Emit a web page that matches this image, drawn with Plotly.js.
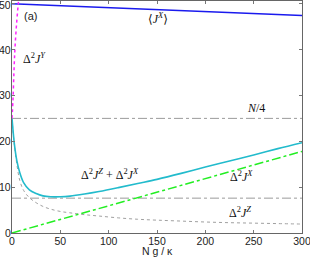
<!DOCTYPE html>
<html><head><meta charset="utf-8">
<script src="https://cdn.plot.ly/plotly-3.0.1.min.js"></script>
<style>html,body{margin:0;padding:0;background:#fff}#c{width:310px;height:257px}</style>
</head><body><div id="c"></div>
<script>
// Data
const gJX = [0, 150, 300];
const meanJX = [50, 48.7, 47.45];

const gY = [0, 1, 2, 3, 4.5, 6.5, 7.5];
const varY = [25, 29, 35, 40, 45, 50, 52];

const gS = [0,1,2,3,5,8,12,18,25,32,40,50,60,75,90,110,130,150,175,200,225,250,275,300];
const sumZX = [25,22.5,20.3,18.5,15.8,13.2,11.0,9.4,8.6,8.1,7.9,7.9,8.05,8.5,9.05,9.9,10.8,11.7,13.0,14.4,15.7,17.0,18.4,19.7];
const varZ = [25,22.3,20,18.2,15,11.5,9.3,7.7,6.6,5.8,5.2,4.7,4.4,4.0,3.7,3.3,3.0,2.8,2.6,2.4,2.25,2.15,2.05,1.95];

const gX = [0, 300];
const varX = [0, 17.8];

const hLines = [25, 7.6];
const xRange = [0, 300];
const yRange = [0, 50.6];
const xTicks = [0, 50, 100, 150, 200, 250, 300];
const yTicks = [0, 10, 20, 30, 40, 50];

const traces = [];
hLines.forEach(v => traces.push({x: xRange, y: [v, v], mode: 'lines', line: {color: '#9a9a9a', width: 1, dash: 'dashdot'}, hoverinfo: 'skip'}));
traces.push({x: gS, y: varZ, mode: 'lines', line: {color: '#a0a0a0', width: 1, dash: 'dot', shape: 'spline'}});
traces.push({x: gX, y: varX, mode: 'lines', line: {color: '#22ee22', width: 1.5, dash: 'dashdot'}});
traces.push({x: gS, y: sumZX, mode: 'lines', line: {color: '#22bbcc', width: 1.6, shape: 'spline'}});
traces.push({x: gJX, y: meanJX, mode: 'lines', line: {color: '#1a1aee', width: 1.5}});
traces.push({x: gY, y: varY, mode: 'lines', line: {color: '#ff22ff', width: 1.5, dash: 'dot', shape: 'spline'}});

const sf = {family: 'Liberation Serif, DejaVu Serif, serif', size: 12, color: '#111'};
const sans = {family: 'Liberation Sans, Arial, sans-serif', size: 10.5, color: '#222'};
function ann(x, y, text) { return {x: x, y: y, xref: 'paper', yref: 'paper', text: text, showarrow: false, font: sf, xanchor: 'left', yanchor: 'middle'}; }
const W = 290, H = 232;
function px(xp, yp) { return [(xp - 12) / W, (233 - yp) / H]; }
const annots = [
  [22, 16, '(a)', {family: 'Liberation Sans, Arial, sans-serif', size: 11, color: '#222'}],
  [146, 18, '⟨<i>J</i><sup><i>X</i></sup>⟩'],
  [21, 58, 'Δ<sup>2</sup><i>J</i><sup><i>Y</i></sup>'],
  [245, 108, '<i>N</i>/4'],
  [79, 174, 'Δ<sup>2</sup><i>J</i><sup><i>Z</i></sup> + Δ<sup>2</sup><i>J</i><sup><i>X</i></sup>'],
  [228, 176, 'Δ<sup>2</sup><i>J</i><sup><i>X</i></sup>'],
  [227, 212, 'Δ<sup>2</sup><i>J</i><sup><i>Z</i></sup>']
].map(a => { const p = px(a[0], a[1]); const o = ann(p[0], p[1], a[2]); if (a[3]) o.font = a[3]; return o; });
const tp = px(157, 251);
annots.push({x: tp[0], y: tp[1], xref: 'paper', yref: 'paper', text: 'N g / κ', showarrow: false, font: sans, xanchor: 'center', yanchor: 'middle'});
// y tick labels placed just left of the axis
yTicks.forEach(v => annots.push({x: px(11.5, 0)[0], y: v, xref: 'paper', yref: 'y', text: String(v), showarrow: false, font: sans, xanchor: 'right', yanchor: 'middle', borderpad: 0, yshift: v === 50 ? -1.5 : 0}));

const axCommon = {showgrid: false, zeroline: false, ticks: 'inside', ticklen: 3, tickcolor: '#777', mirror: 'ticks', showline: true, linecolor: '#666', linewidth: 1, tickfont: sans, ticklabeloverflow: 'allow'};
const layout = {
  width: 310, height: 257,
  margin: {l: 12, r: 8, t: 1, b: 24, pad: 0},
  paper_bgcolor: '#fff', plot_bgcolor: '#fff',
  showlegend: false,
  xaxis: Object.assign({}, axCommon, {range: xRange, tickvals: xTicks, ticklabelstandoff: -2}),
  yaxis: Object.assign({}, axCommon, {range: yRange, tickvals: yTicks, showticklabels: false}),
  annotations: annots
};
Plotly.newPlot('c', traces, layout, {staticPlot: true, displayModeBar: false});
</script></body></html>
